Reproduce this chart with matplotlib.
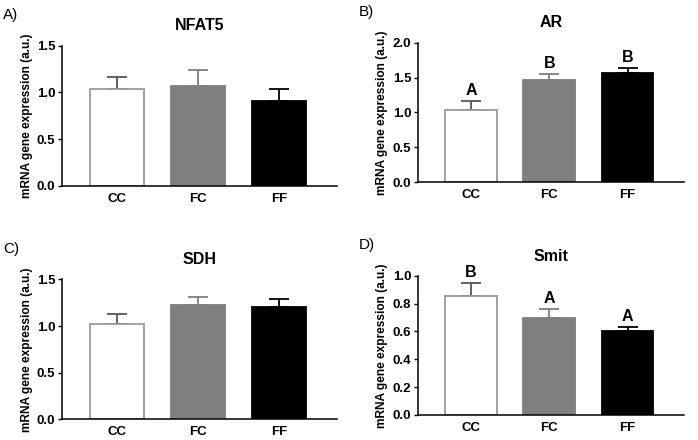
import matplotlib.pyplot as plt
import numpy as np

plt.rcParams['font.family'] = ['Liberation Sans', 'DejaVu Sans']

groups = ['CC', 'FC', 'FF']

nfat5_mean = [1.035, 1.07, 0.913]
nfat5_err = [0.132, 0.173, 0.122]

ar_mean = [1.03, 1.46, 1.56]
ar_err = [0.13, 0.09, 0.08]
ar_letters = ['A', 'B', 'B']

sdh_mean = [1.018, 1.228, 1.20]
sdh_err = [0.107, 0.079, 0.09]

smit_mean = [0.856, 0.694, 0.603]
smit_err = [0.094, 0.069, 0.032]
smit_letters = ['B', 'A', 'A']

face = ['white', '#7f7f7f', 'black']
edge = ['#9a9a9a', '#7f7f7f', 'black']

fig = plt.figure(figsize=(6.98, 4.4), dpi=100)


def panel(rect, title, tag, mean, err, ymax, step, letters=None):
    ax = fig.add_axes(rect)
    x = np.arange(len(groups))
    for i in range(len(groups)):
        ax.errorbar(x[i], mean[i], yerr=[[0], [err[i]]], fmt='none',
                    ecolor=edge[i] if i else '#555555', elinewidth=1.3,
                    capsize=7.5, capthick=1.3, zorder=1)
    ax.bar(x, mean, width=0.66, color=face, edgecolor=edge, linewidth=1.3, zorder=2)
    if letters:
        for i, l in enumerate(letters):
            ax.text(x[i], mean[i] + err[i] + ymax * 0.02, l, ha='center', va='bottom',
                    fontsize=11.5, fontweight='bold')
    ax.set_xlim(-0.675, 2.72)
    ax.set_ylim(0, ymax)
    ax.set_yticks(np.arange(0, ymax + 1e-9, step))
    ax.set_yticklabels(['%.1f' % v for v in np.arange(0, ymax + 1e-9, step)],
                       fontsize=9.5, fontweight='bold')
    ax.set_xticks(x)
    ax.set_xticklabels(groups, fontsize=9.5, fontweight='bold')
    ax.tick_params(axis='x', length=0, pad=5)
    ax.tick_params(axis='y', length=3, width=1, pad=2)
    for s in ['top', 'right']:
        ax.spines[s].set_visible(False)
    for s in ['left', 'bottom']:
        ax.spines[s].set_linewidth(1.1)
    ax.set_ylabel('mRNA gene expression (a.u.)', fontsize=8.6, fontweight='bold', labelpad=3)
    ax.set_title(title, fontsize=11.5, fontweight='bold', pad=11)
    fig.text(rect[0] - 0.085, rect[1] + rect[3] + 0.07, tag, fontsize=11, ha='left', va='center')
    return ax


panel([0.089, 0.578, 0.394, 0.318], 'NFAT5', 'A)', nfat5_mean, nfat5_err, 1.5, 0.5)
panel([0.599, 0.586, 0.381, 0.317], 'AR', 'B)', ar_mean, ar_err, 2.0, 0.5, ar_letters)
panel([0.089, 0.047, 0.394, 0.318], 'SDH', 'C)', sdh_mean, sdh_err, 1.5, 0.5)
panel([0.599, 0.057, 0.381, 0.316], 'Smit', 'D)', smit_mean, smit_err, 1.0, 0.2, smit_letters)

fig.savefig('out.png', dpi=100)
